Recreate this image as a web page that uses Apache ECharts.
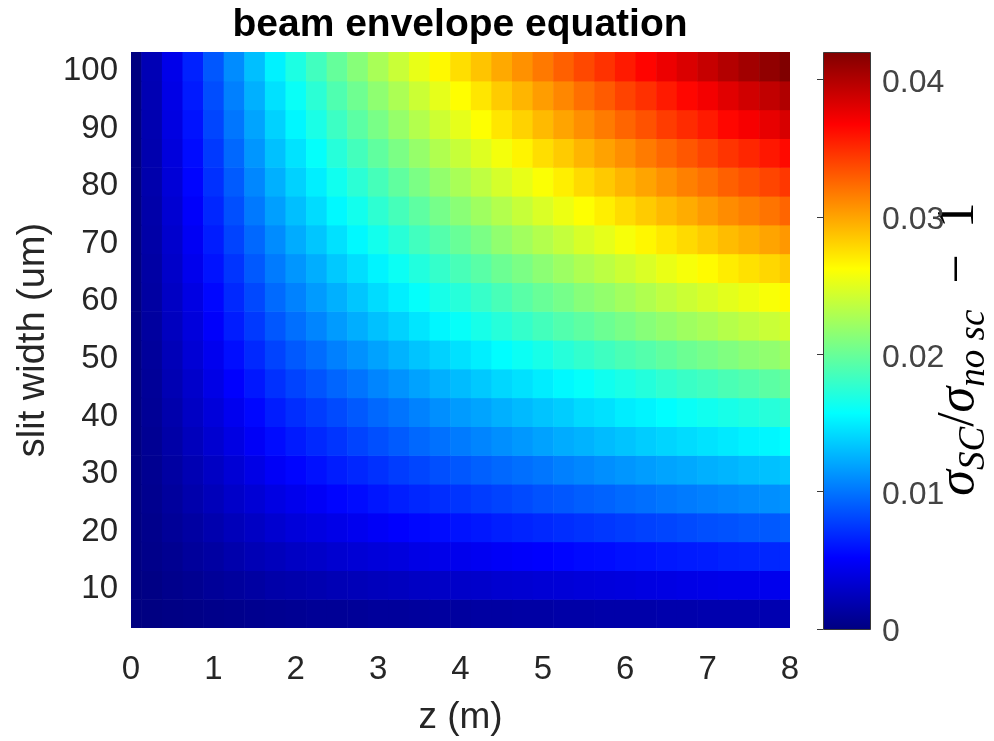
<!DOCTYPE html>
<html>
<head>
<meta charset="utf-8">
<title>beam envelope equation</title>
<script src="https://cdn.jsdelivr.net/npm/echarts@6/dist/echarts.min.js"></script>
<style>
  html, body { margin: 0; padding: 0; background: #ffffff; }
  #chart { width: 994px; height: 741px; }
</style>
</head>
<body>
<div id="chart"></div>
<script>
// Propagation distance samples (m)
const zPositions = [0, 0.25, 0.5, 0.75, 1, 1.25, 1.5, 1.75, 2, 2.25, 2.5, 2.75, 3, 3.25, 3.5, 3.75,
  4, 4.25, 4.5, 4.75, 5, 5.25, 5.5, 5.75, 6, 6.25, 6.5, 6.75, 7, 7.25, 7.5, 7.75, 8];

// Slit widths (um), one row of cells each
const slitWidths = [5, 10, 15, 20, 25, 30, 35, 40, 45, 50, 55, 60, 65, 70, 75, 80, 85, 90, 95, 100];

// sigma_SC / sigma_noSC - 1, in units of 1e-4; one row per slit width, one entry per z sample
const ratioRowsE4 = [
  [0, 1, 2, 3, 4, 5, 6, 7, 8, 9, 9, 10, 11, 11, 12, 13, 13, 14, 14, 15, 15, 16, 16, 17, 17, 17, 18, 18, 19, 19, 19, 20, 20],            // 5
  [0, 2, 5, 7, 10, 12, 14, 17, 18, 20, 22, 23, 25, 26, 28, 29, 30, 31, 33, 34, 35, 36, 37, 38, 39, 40, 41, 42, 43, 44, 44, 45, 46],       // 10
  [0, 4, 7, 11, 14, 18, 22, 25, 28, 30, 33, 35, 37, 39, 42, 44, 45, 47, 49, 51, 52, 54, 56, 57, 59, 60, 62, 63, 64, 66, 67, 68, 69],      // 15
  [0, 5, 10, 14, 19, 24, 28, 33, 37, 40, 43, 46, 49, 52, 55, 57, 60, 62, 65, 67, 69, 71, 73, 75, 77, 79, 81, 83, 85, 86, 88, 89, 91],     // 20
  [0, 6, 12, 18, 24, 30, 35, 41, 45, 49, 54, 57, 61, 65, 68, 71, 74, 77, 80, 83, 86, 88, 91, 93, 96, 98, 101, 103, 105, 107, 109, 111, 113], // 25
  [0, 7, 14, 21, 28, 35, 42, 49, 54, 59, 64, 68, 72, 77, 81, 85, 88, 92, 95, 98, 101, 105, 108, 111, 114, 117, 120, 122, 125, 127, 130, 132, 134], // 30
  [0, 8, 16, 25, 33, 41, 49, 57, 63, 69, 74, 80, 85, 90, 95, 99, 103, 107, 111, 115, 119, 123, 126, 130, 133, 137, 140, 143, 146, 149, 152, 154, 157], // 35
  [0, 9, 18, 28, 37, 46, 55, 64, 71, 77, 83, 89, 95, 100, 106, 111, 116, 120, 125, 129, 133, 137, 142, 145, 150, 153, 157, 161, 164, 167, 170, 173, 176], // 40
  [0, 10, 21, 31, 42, 52, 62, 72, 80, 87, 94, 100, 107, 113, 119, 125, 130, 135, 141, 145, 150, 155, 159, 164, 168, 172, 177, 181, 184, 188, 191, 195, 198], // 45
  [0, 11, 23, 35, 46, 58, 69, 80, 89, 97, 105, 112, 119, 126, 133, 139, 145, 151, 157, 162, 167, 173, 178, 183, 188, 192, 197, 202, 206, 210, 214, 217, 221], // 50
  [0, 13, 26, 38, 51, 64, 76, 88, 98, 107, 116, 124, 132, 139, 147, 154, 160, 167, 173, 179, 185, 191, 196, 202, 207, 213, 218, 223, 227, 232, 236, 240, 244], // 55
  [0, 14, 28, 41, 55, 69, 82, 96, 106, 116, 125, 134, 143, 151, 159, 167, 173, 180, 187, 194, 200, 206, 213, 218, 224, 230, 236, 241, 246, 251, 255, 260, 264], // 60
  [0, 15, 30, 45, 60, 74, 89, 103, 114, 124, 135, 144, 153, 162, 171, 179, 187, 194, 202, 208, 215, 222, 229, 235, 241, 247, 254, 259, 264, 270, 275, 279, 284], // 65
  [0, 16, 32, 48, 64, 80, 95, 110, 123, 134, 145, 155, 165, 174, 184, 192, 200, 208, 217, 224, 231, 238, 246, 252, 259, 266, 272, 278, 284, 290, 295, 300, 305], // 70
  [0, 17, 34, 51, 68, 85, 102, 118, 131, 143, 155, 165, 176, 186, 196, 206, 214, 223, 231, 239, 247, 255, 262, 269, 277, 284, 291, 297, 304, 310, 315, 320, 326], // 75
  [0, 18, 36, 54, 72, 90, 108, 125, 139, 151, 164, 175, 186, 197, 208, 218, 227, 236, 245, 253, 261, 269, 278, 285, 293, 300, 308, 315, 321, 328, 334, 339, 345], // 80
  [0, 19, 38, 57, 76, 95, 114, 132, 146, 159, 173, 185, 197, 208, 219, 230, 239, 249, 258, 267, 276, 284, 293, 301, 309, 317, 325, 332, 339, 346, 352, 358, 364], // 85
  [0, 20, 40, 60, 81, 101, 120, 139, 154, 168, 182, 195, 207, 219, 231, 242, 252, 262, 273, 281, 291, 300, 309, 317, 326, 334, 343, 350, 357, 365, 371, 377, 384], // 90
  [0, 21, 42, 63, 84, 105, 125, 145, 161, 175, 190, 203, 216, 228, 241, 252, 263, 273, 284, 293, 303, 312, 322, 330, 340, 348, 357, 365, 372, 380, 387, 393, 400], // 95
  [0, 22, 44, 66, 88, 110, 131, 152, 169, 184, 199, 213, 227, 240, 253, 265, 276, 287, 298, 308, 318, 328, 338, 347, 357, 366, 375, 383, 391, 399, 406, 413, 420]  // 100
];

// Colour scale limits and tick labels
const colorRange = [0, 0.042];
const zTicks = [0, 1, 2, 3, 4, 5, 6, 7, 8];
const widthTicks = [10, 20, 30, 40, 50, 60, 70, 80, 90, 100];
const colorbarTicks = [0, 0.01, 0.02, 0.03, 0.04];

// MATLAB "jet" colormap, evenly spaced stops
const jet = ['#000080', '#0000ff', '#0080ff', '#00ffff', '#80ff80', '#ffff00', '#ff8000', '#ff0000', '#800000'];

const cells = [];
slitWidths.forEach(function (w, i) {
  zPositions.forEach(function (z, j) {
    cells.push([z, w, ratioRowsE4[i][j] / 1e4]);
  });
});

const zHalf = (zPositions[1] - zPositions[0]) / 2;
const wHalf = (slitWidths[1] - slitWidths[0]) / 2;

const tickFont = 'Liberation Sans';
const inkColor = '#262626';

function renderCell(params, api) {
  const z = api.value(0);
  const w = api.value(1);
  const p0 = api.coord([z - zHalf, w + wHalf]);
  const p1 = api.coord([z + zHalf, w - wHalf]);
  const cs = params.coordSys;
  const shape = echarts.graphic.clipRectByRect(
    { x: p0[0], y: p0[1], width: p1[0] - p0[0] + 0.6, height: p1[1] - p0[1] + 0.6 },
    { x: cs.x, y: cs.y, width: cs.width, height: cs.height }
  );
  if (!shape) return null;
  return { type: 'rect', shape: shape, style: { fill: api.visual('color') } };
}

function renderColorbar(params, api) {
  const p0 = api.coord([0, colorRange[1]]);
  const p1 = api.coord([1, colorRange[0]]);
  const stops = jet.slice().reverse().map(function (c, i) {
    return { offset: i / (jet.length - 1), color: c };
  });
  return {
    type: 'rect',
    shape: { x: Math.round(p0[0]) + 0.5, y: Math.round(p0[1]) + 0.5,
             width: Math.round(p1[0] - p0[0]), height: Math.round(p1[1] - p0[1]) },
    style: {
      fill: new echarts.graphic.LinearGradient(0, 0, 0, 1, stops),
      stroke: '#3a3a3a',
      lineWidth: 1
    }
  };
}

const chart = echarts.init(document.getElementById('chart'), null, { renderer: 'canvas' });

chart.setOption({
  backgroundColor: '#ffffff',
  animation: false,
  grid: [
    { left: 131, top: 52, width: 659, height: 577 },
    { left: 823, top: 52, width: 47, height: 577 }
  ],
  xAxis: [
    {
      gridIndex: 0,
      type: 'value',
      min: zTicks[0],
      max: zTicks[zTicks.length - 1],
      interval: 1,
      name: 'z (m)',
      nameLocation: 'middle',
      nameGap: 71,
      nameTextStyle: { fontFamily: tickFont, fontSize: 37, color: inkColor },
      axisLine: { show: false },
      axisTick: { show: false },
      splitLine: { show: false },
      axisLabel: { fontFamily: tickFont, fontSize: 33, color: inkColor, margin: 25 }
    },
    { gridIndex: 1, type: 'value', min: 0, max: 1, show: false }
  ],
  yAxis: [
    {
      gridIndex: 0,
      type: 'value',
      min: slitWidths[0] - wHalf,
      max: slitWidths[slitWidths.length - 1] + wHalf,
      name: 'slit width (um)',
      nameLocation: 'middle',
      nameGap: 76,
      nameRotate: 90,
      nameTextStyle: { fontFamily: tickFont, fontSize: 38, color: inkColor },
      axisLine: { show: false },
      axisTick: { show: false },
      splitLine: { show: false },
      axisLabel: {
        customValues: widthTicks,
        margin: 13,
        formatter: function (v) { return '{t|' + v + '}'; },
        rich: {
          t: { fontFamily: tickFont, fontSize: 33, color: inkColor, padding: [9, 0, 0, 0] }
        }
      }
    },
    {
      gridIndex: 1,
      type: 'value',
      position: 'right',
      min: colorRange[0],
      max: colorRange[1],
      z: 10,
      axisLine: { show: false },
      splitLine: { show: false },
      axisTick: {
        customValues: colorbarTicks,
        inside: true,
        length: 6,
        lineStyle: { color: '#3a3a3a', width: 1 }
      },
      axisLabel: {
        customValues: colorbarTicks,
        margin: 12,
        formatter: function (v) { return '{t|' + (v === 0 ? '0' : v.toFixed(2)) + '}'; },
        rich: {
          t: { fontFamily: tickFont, fontSize: 32, color: '#444444', padding: [7, 0, 0, 0] }
        }
      }
    }
  ],
  visualMap: {
    show: false,
    type: 'continuous',
    seriesIndex: 0,
    dimension: 2,
    min: colorRange[0],
    max: colorRange[1],
    inRange: { color: jet }
  },
  series: [
    {
      type: 'custom',
      xAxisIndex: 0,
      yAxisIndex: 0,
      renderItem: renderCell,
      encode: { x: 0, y: 1 },
      data: cells
    },
    {
      type: 'custom',
      xAxisIndex: 1,
      yAxisIndex: 1,
      renderItem: renderColorbar,
      data: [[0, colorRange[0]]]
    }
  ],
  graphic: [
    {
      type: 'text',
      x: 460,
      y: 25,
      style: {
        text: 'beam envelope equation',
        fontFamily: tickFont,
        fontWeight: 'bold',
        fontSize: 39,
        fill: '#000000',
        align: 'center',
        verticalAlign: 'middle'
      }
    },
    {
      type: 'text',
      x: 959,
      y: 349,
      rotation: Math.PI / 2,
      style: {
        text: '{g|σ}{sub|SC}{n|/}{g|σ}{sub|no sc}{n|  −  1}',
        align: 'center',
        verticalAlign: 'middle',
        rich: {
          g: { fontFamily: 'Liberation Serif', fontStyle: 'italic', fontSize: 52, lineHeight: 68, fill: '#000000' },
          n: { fontFamily: 'Liberation Serif', fontSize: 52, lineHeight: 68, fill: '#000000' },
          sub: { fontFamily: 'Liberation Serif', fontStyle: 'italic', fontSize: 37, lineHeight: 37, verticalAlign: 'bottom', fill: '#000000' }
        }
      }
    }
  ]
});
</script>
</body>
</html>
